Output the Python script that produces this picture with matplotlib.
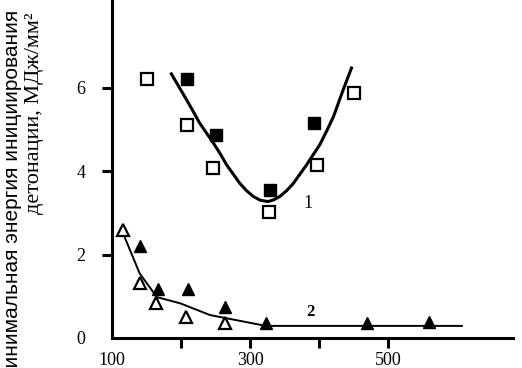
import numpy as np
import matplotlib
matplotlib.use('Agg')
import matplotlib.pyplot as plt

# Series 1 (squares)
sq_open_x = [150, 209, 247, 327, 397, 450]
sq_open_y = [6.2, 5.1, 4.07, 3.01, 4.15, 5.87]
sq_fill_x = [208, 251, 329, 392]
sq_fill_y = [6.21, 4.87, 3.55, 5.15]
curve1_x = [186, 197, 208, 218, 227, 237, 247, 257, 266, 276, 285, 295, 305, 315, 326,
            334, 343, 353, 363, 372, 382, 391, 401, 411, 421, 428, 435, 441, 447]
curve1_y = [6.33, 6.02, 5.71, 5.42, 5.15, 4.91, 4.67, 4.41, 4.15, 3.92, 3.71, 3.53, 3.39, 3.30, 3.27,
            3.31, 3.39, 3.53, 3.71, 3.92, 4.15, 4.38, 4.63, 4.96, 5.31, 5.63, 5.95, 6.21, 6.47]

# Series 2 (triangles)
tri_open_x = [116, 140, 164, 207, 264]
tri_open_y = [2.59, 1.31, 0.83, 0.51, 0.35]
tri_fill_x = [141, 167, 210, 264, 323, 469, 559]
tri_fill_y = [2.2, 1.17, 1.17, 0.75, 0.35, 0.37, 0.39]
curve2_x = [116, 140, 165, 199, 242, 323, 607]
curve2_y = [2.51, 1.55, 0.98, 0.83, 0.55, 0.29, 0.29]

xticks = [100, 200, 300, 400, 500]
xticklabels = ['100', '', '300', '', '500']
yticks = [0, 2, 4, 6]
yticklabels = ['0', '2', '4', '6']

serif = 'Liberation Serif'
sans = 'Liberation Sans'

fig = plt.figure(figsize=(5.22, 3.68), dpi=100)
ax = fig.add_axes([112/522, 30/368, (513-112)/522, 338/368])

ax.plot(curve1_x, curve1_y, color='black', lw=2.2)
ax.plot(curve2_x, curve2_y, color='black', lw=1.4)
ax.plot(sq_open_x, sq_open_y, 's', ms=8.5, mfc='white', mec='black', mew=1.6)
ax.plot(sq_fill_x, sq_fill_y, 's', ms=9, mfc='black', mec='black')
ax.plot(tri_open_x, tri_open_y, '^', ms=9, mfc='white', mec='black', mew=1.6)
ax.plot(tri_fill_x, tri_fill_y, '^', ms=9, mfc='black', mec='black')

ax.text(384, 3.23, '1', fontsize=13, family=serif, ha='center', va='center')
ax.text(387, 0.63, '2', fontsize=12, family=serif, fontweight='bold', ha='center', va='center')

ax.set_xlim(100, 681)
ax.set_ylim(0, 8.1)
ax.set_xticks(xticks)
ax.set_xticklabels(xticklabels, family=serif, fontsize=13)
ax.set_yticks(yticks)
ax.set_yticklabels(yticklabels, family=serif, fontsize=13)
ax.tick_params(axis='x', direction='out', length=7, width=2.2, pad=3)
ax.tick_params(axis='y', direction='out', length=7, width=2.2, pad=12)
ax.xaxis.get_major_ticks()[0].tick1line.set_visible(False)
ax.yaxis.get_major_ticks()[0].tick1line.set_visible(False)

for s in ['top', 'right']:
    ax.spines[s].set_visible(False)
for s in ['left', 'bottom']:
    ax.spines[s].set_linewidth(2.2)

fig.text(13/522, 1 - 10/368, 'Минимальная энергия инициирования', rotation=90,
         family=sans, fontsize=15, ha='center', va='top')
fig.text(35/522, 1 - 13/368, 'детонации, МДж/мм²', rotation=90,
         family=serif, fontsize=16, ha='center', va='top')

fig.savefig('out.png', dpi=100)
